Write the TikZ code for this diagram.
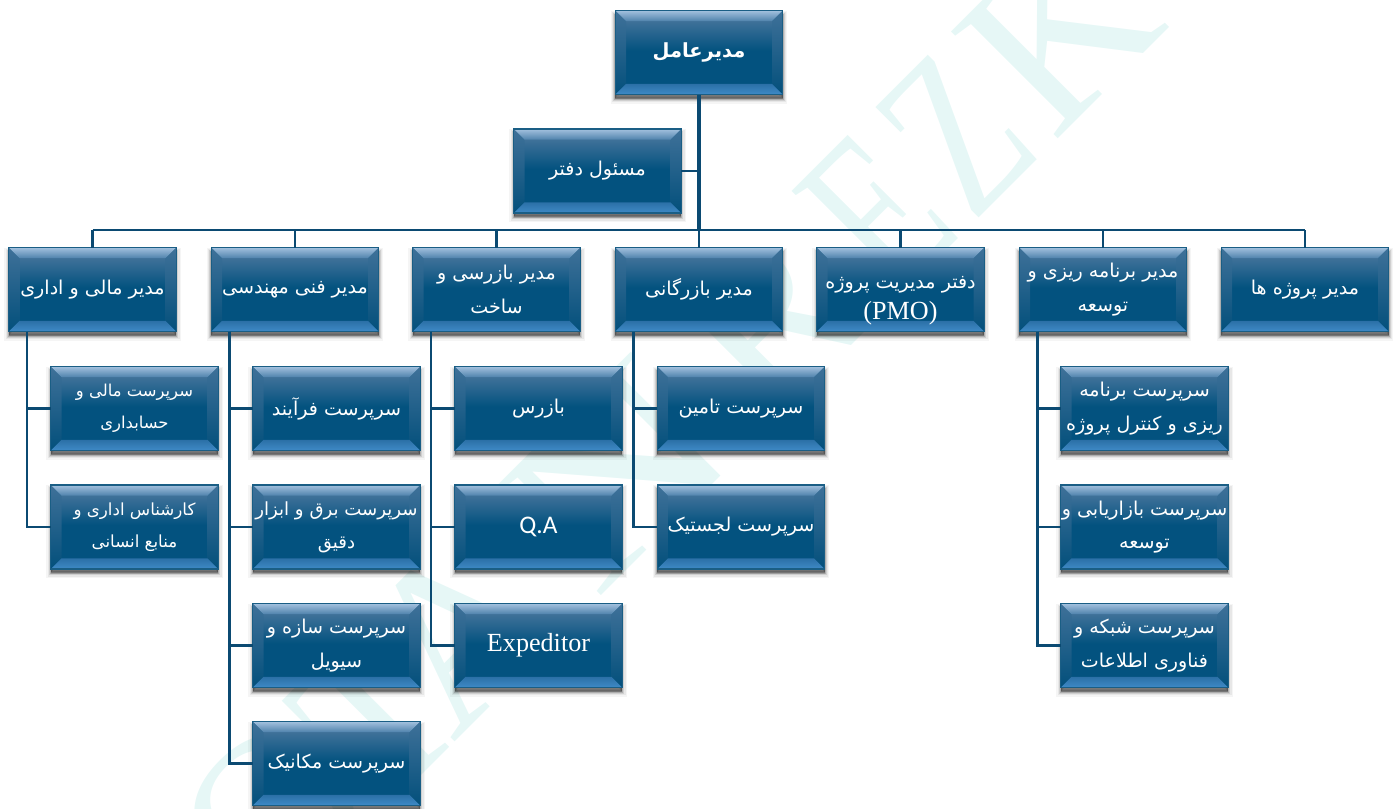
\documentclass[tikz,border=0pt]{standalone}
\usepackage{graphicx}
\usepackage{fontspec}
\setmainfont{Liberation Serif}
\TeXXeTstate=1
\newfontfamily\arabicfont[Script=Arabic]{DejaVu Sans}
\newfontfamily\latinsans{Carlito}
\newcommand{\fa}[1]{{\arabicfont\beginR #1\endR}}
\definecolor{facedark}{HTML}{03527F}
\definecolor{facetop}{HTML}{3F7199}
\definecolor{bevtop}{HTML}{A3C1DE}
\definecolor{bevtopb}{HTML}{4F82AC}
\definecolor{bevbota}{HTML}{2B70A7}
\definecolor{bevbotb}{HTML}{3F8AC6}
\definecolor{edgecol}{HTML}{1A5E85}
\definecolor{linecol}{HTML}{0B4A72}
\definecolor{wmcol}{HTML}{E6F7F6}
\tikzset{
 orgbox/.style={minimum width=125.5pt,minimum height=63pt,inner sep=0pt,outer sep=0pt,
  align=center,text=white,font=\fontsize{14.3}{25}\selectfont,
  preaction={fill=black,draw=black,line width=7pt,opacity=.04,transform canvas={yshift=-3.6pt}},
  preaction={fill=black,draw=black,line width=5pt,opacity=.06,transform canvas={yshift=-3.4pt}},
  preaction={fill=black,draw=black,line width=3pt,opacity=.1,transform canvas={yshift=-3.2pt}},
  preaction={fill=black,draw=black,line width=1.5pt,opacity=.16,transform canvas={yshift=-3pt}},
  preaction={fill=black,opacity=.28,transform canvas={yshift=-2.6pt}},
  path picture={
   \path (path picture bounding box.south west) coordinate (sw) (path picture bounding box.north east) coordinate (ne);
   \fill[facedark] (sw) rectangle (ne);
   \shade[top color=facetop,bottom color=facedark] ([yshift=-8pt]sw|-ne) rectangle ([yshift=-30pt]ne);
   \shade[top color=facetop,middle color=facedark,bottom color=facedark!97!black]
     (sw|-ne) -- ([xshift=8pt,yshift=-8pt]sw|-ne) -- ([xshift=8pt,yshift=8pt]sw) -- (sw) -- cycle;
   \shade[top color=facetop,middle color=facedark,bottom color=facedark!97!black]
     (ne) -- ([xshift=-8pt,yshift=-8pt]ne) -- ([xshift=-8pt,yshift=8pt]ne|-sw) -- (ne|-sw) -- cycle;
   \shade[top color=bevtop,bottom color=bevtopb]
     (sw|-ne) -- (ne) -- ([xshift=-8pt,yshift=-8pt]ne) -- ([xshift=8pt,yshift=-8pt]sw|-ne) -- cycle;
   \shade[top color=bevbota,bottom color=bevbotb]
     (sw) -- (ne|-sw) -- ([xshift=-8pt,yshift=8pt]ne|-sw) -- ([xshift=8pt,yshift=8pt]sw) -- cycle;
  },
  draw=edgecol,line width=.9pt},
 busline/.style={draw=linecol,line width=2.2pt},
 drop/.style={draw=linecol,line width=1.7pt},
 connthin/.style={draw=linecol,line width=1.9pt},
 connthick/.style={draw=linecol,line width=3pt},
 wmark/.style={text=wmcol,anchor=base west,inner sep=0pt,rotate=45,font=\fontsize{173}{173}\selectfont},
}
\begin{document}
\begin{tikzpicture}[x=0.75pt,y=-0.75pt]
\useasboundingbox (0,0) rectangle (1393,808);
\clip (0,0) rectangle (1393,808);
\foreach \L/\u/\s in {O/-466/1,T/-300/.85,A/-205/1,N/-5/1.25,R/240/1,E/420/.7,Z/530/.72,K/643/1}{
 \node[wmark] (wm\L) at ({(1197+1.4142*\u)/2},{(1197-1.4142*\u)/2}) {\scalebox{\s}[1]{\L}};
}
\coordinate (bus) at (699,230);
\node[orgbox,font=\bfseries\fontsize{14.6}{25}\selectfont] (ceo) at (699,52.5) {\fa{\bfseries مدیرعامل}};
\node[orgbox] (office) at (597.5,171) {\fa{مسئول دفتر}};
\node[orgbox] (m1) at (92.5,289.5) {\fa{مدیر مالی و اداری}};
\node[orgbox] (m2) at (295,289.5) {\fa{مدیر فنی مهندسی}};
\node[orgbox] (m3) at (496.5,289.5) {\fa{مدیر بازرسی و}\\\fa{ساخت}};
\node[orgbox] (m4) at (699,289.5) {\fa{مدیر بازرگانی}};
\node[orgbox] (m5) at (900.5,289.5) {\rule{0pt}{26pt}\fa{دفتر مدیریت پروژه}\\[-1.5pt]{\fontsize{19.6}{20}\selectfont (PMO)}};
\node[orgbox] (m6) at (1103,289.5) {\fa{مدیر برنامه ریزی و}\\\fa{توسعه}};
\node[orgbox] (m7) at (1305,289.5) {\fa{مدیر پروژه ها}};
\node[orgbox,font=\fontsize{12.3}{24}\selectfont] (c11) at (134.5,408.5) {\fa{سرپرست مالی و}\\\fa{حسابداری}};
\node[orgbox,font=\fontsize{12.5}{24}\selectfont] (c12) at (134.5,527) {\fa{کارشناس اداری و}\\\fa{منابع انسانی}};
\node[orgbox] (c21) at (336.5,408.5) {\fa{سرپرست فرآیند}};
\node[orgbox,font=\fontsize{13.6}{25}\selectfont] (c22) at (336.5,527) {\fa{سرپرست برق و ابزار}\\\fa{دقیق}};
\node[orgbox] (c23) at (336.5,645.5) {\fa{سرپرست سازه و}\\\fa{سیویل}};
\node[orgbox] (c24) at (336.5,763.5) {\fa{سرپرست مکانیک}};
\node[orgbox] (c31) at (538.5,408.5) {\fa{بازرس}};
\node[orgbox,font=\latinsans\fontsize{19}{20}\selectfont] (c32) at (538.5,527) {Q.A};
\node[orgbox,font=\fontsize{19.6}{20}\selectfont] (c33) at (538.5,645.5) {Expeditor};
\node[orgbox] (c41) at (741,408.5) {\fa{سرپرست تامین}};
\node[orgbox] (c42) at (741,527) {\fa{سرپرست لجستیک}};
\node[orgbox] (c61) at (1144.5,408.5) {\fa{سرپرست برنامه}\\\fa{ریزی و کنترل پروژه}};
\node[orgbox] (c62) at (1144.5,527) {\fa{سرپرست بازاریابی و}\\\fa{توسعه}};
\node[orgbox] (c63) at (1144.5,645.5) {\fa{سرپرست شبکه و}\\\fa{فناوری اطلاعات}};
\draw[connthick] (ceo.south) -- (bus);
\draw[connthin] (office.east) -- (office.east -| ceo.south);
\draw[busline] (m1.north |- bus) -- (m7.north |- bus);
\foreach \m in {m1,m2,m3,m4,m5,m6,m7}{\draw[drop] (\m.north) -- (\m.north |- bus);}
\foreach \p/\c in {m1/c11,m1/c12,m2/c21,m2/c22,m2/c23,m2/c24,m3/c31,m3/c32,m3/c33,m4/c41,m4/c42,m6/c61,m6/c62,m6/c63}{
 \draw[connthin] ([xshift=13.5pt]\p.south west) |- (\c.west);}
\end{tikzpicture}
\end{document}
